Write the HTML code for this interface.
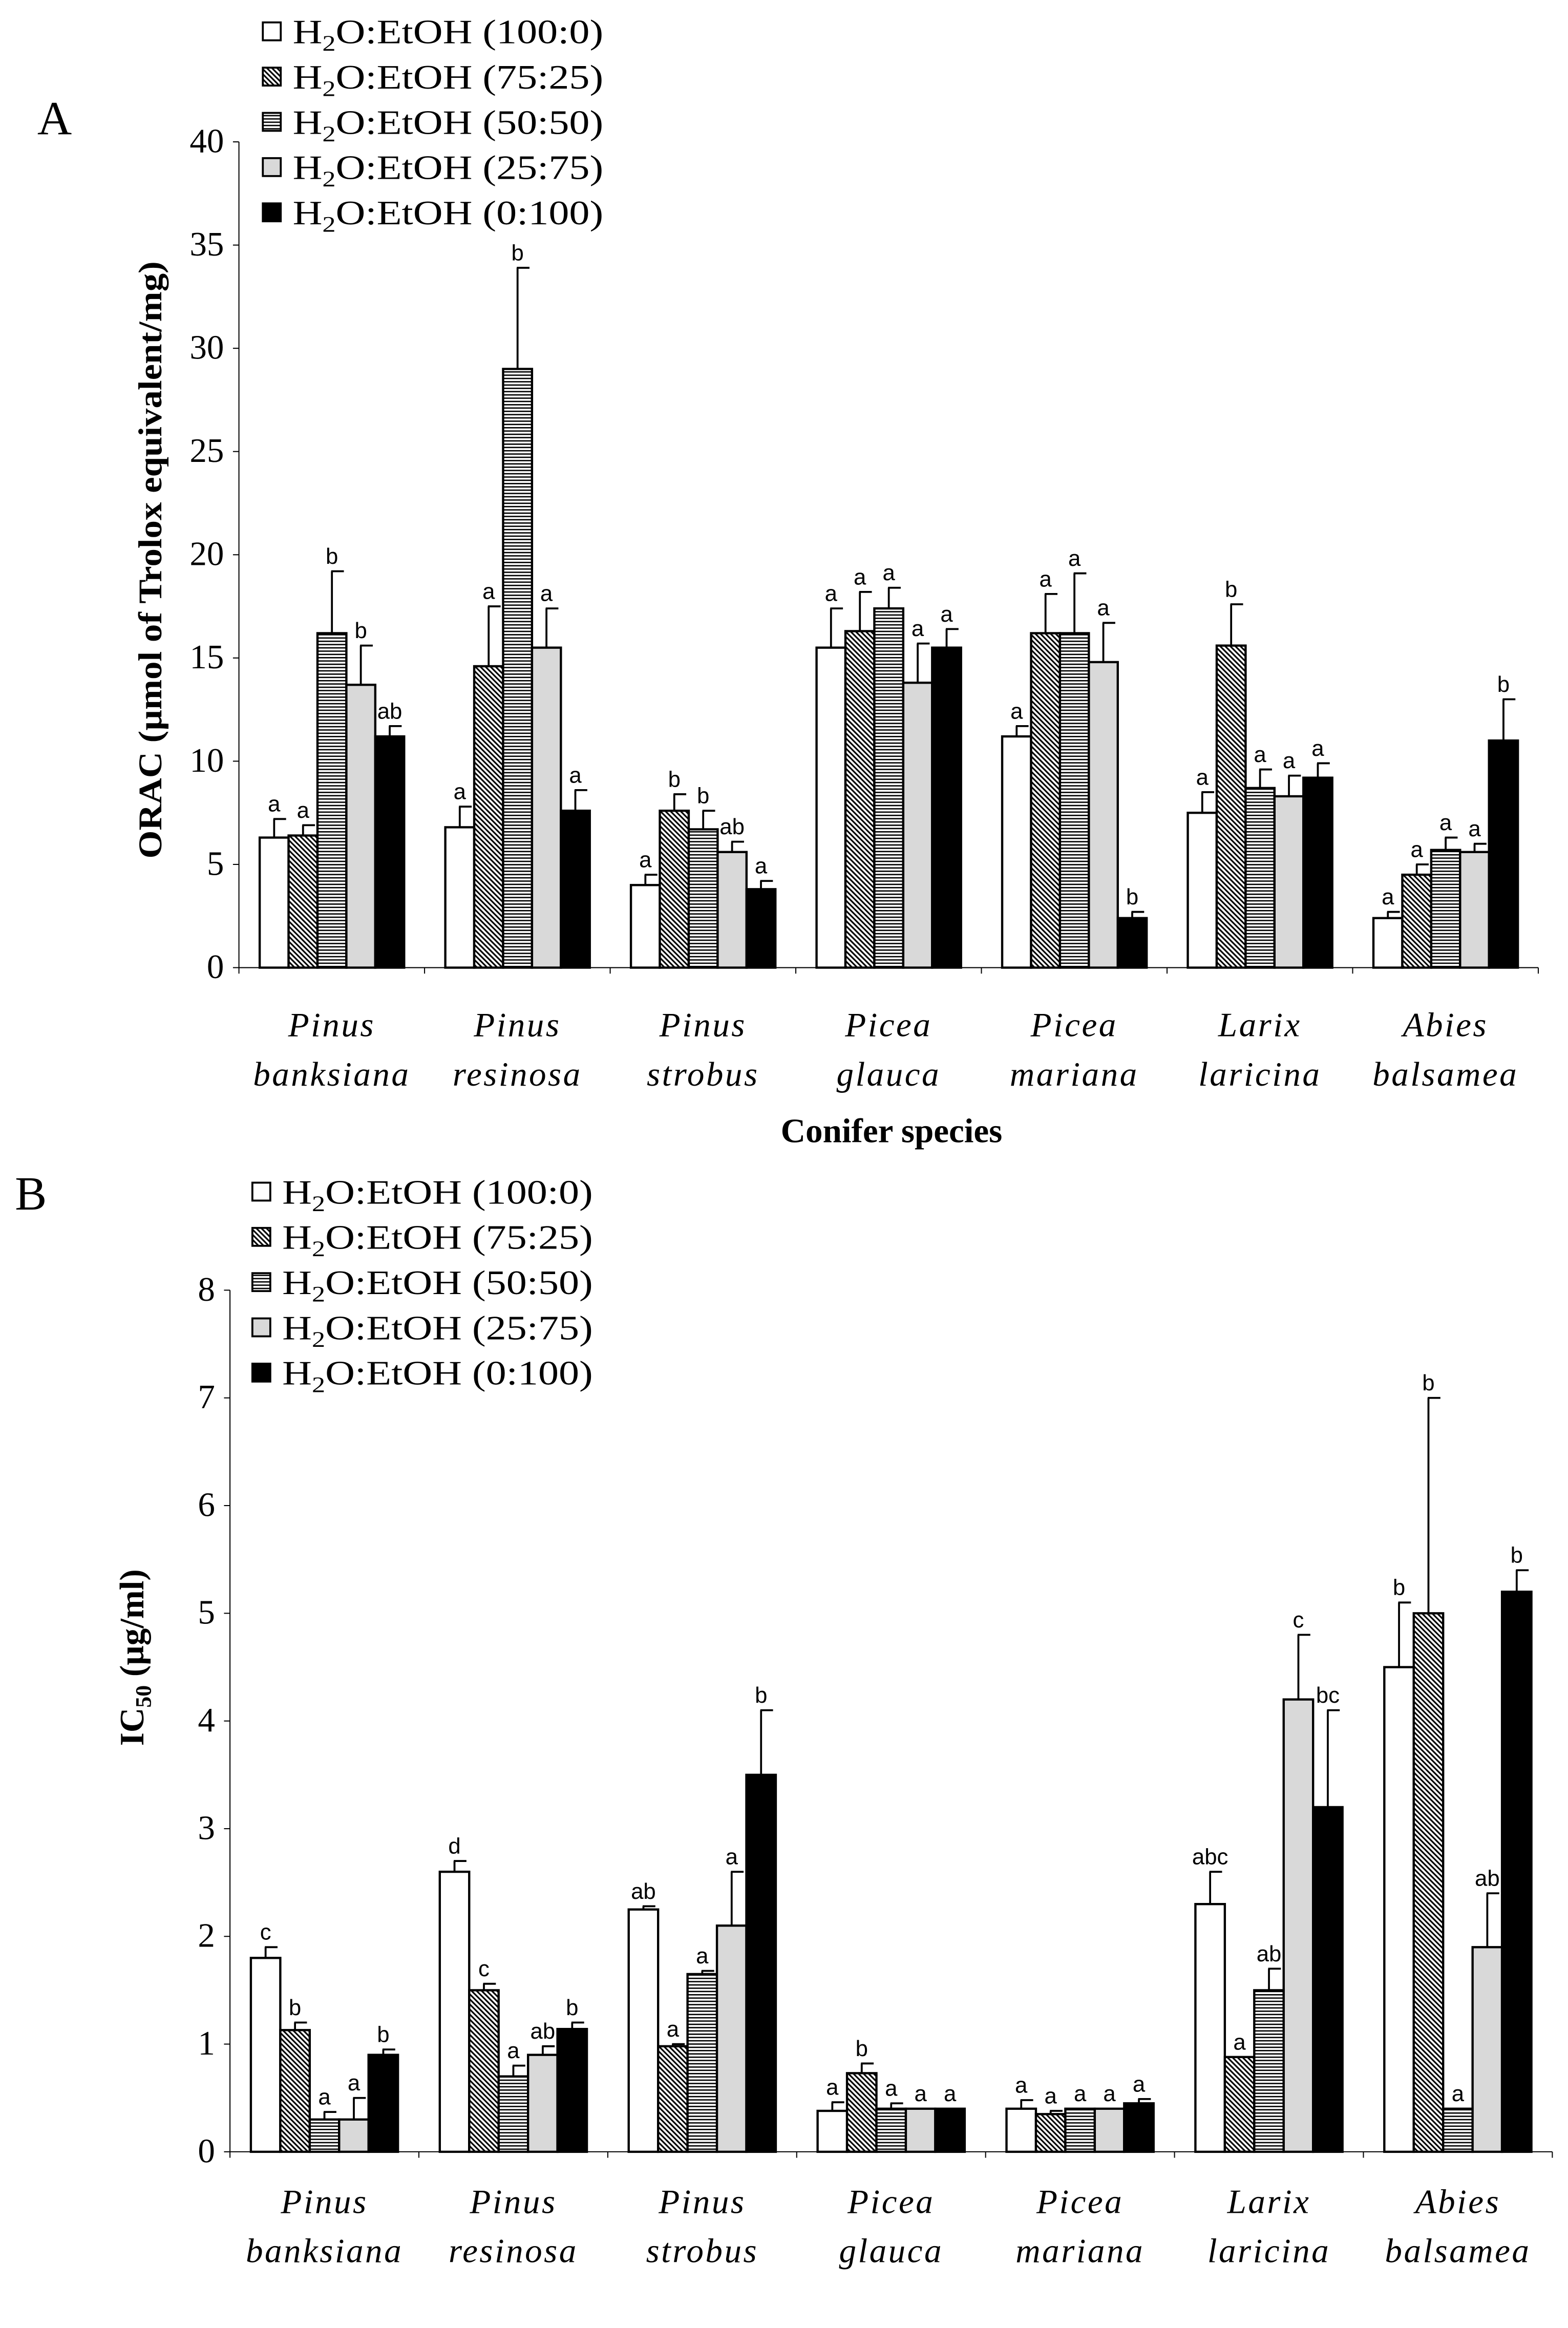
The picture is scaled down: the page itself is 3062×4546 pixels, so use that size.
<!DOCTYPE html>
<html><head><meta charset="utf-8"><style>html,body{margin:0;padding:0;background:#fff}svg{display:block}</style></head>
<body>
<svg id="fig" xmlns="http://www.w3.org/2000/svg" width="3062" height="4546" viewBox="0 0 1050 1559" preserveAspectRatio="none">
<defs>
<pattern id="diag" patternUnits="userSpaceOnUse" width="2.4" height="2.4" patternTransform="rotate(-45)"><rect width="2.4" height="2.4" fill="#fff"/><rect x="0" y="0" width="1.1" height="2.4" fill="#000"/></pattern>
<pattern id="horiz" patternUnits="userSpaceOnUse" width="4" height="2.2"><rect width="4" height="2.2" fill="#fff"/><rect x="0" y="0" width="4" height="0.9" fill="#000"/></pattern>
</defs>
<g id="root"></g>
</svg>
<script>
const species1 = ["Pinus","Pinus","Pinus","Picea","Picea","Larix","Abies"];
const species2 = ["banksiana","resinosa","strobus","glauca","mariana","laricina","balsamea"];
const seriesNames = ["(100:0)","(75:25)","(50:50)","(25:75)","(0:100)"];
const fills = ["#fff","url(#diag)","url(#horiz)","#d9d9d9","#000"];
// Panel A: ORAC values [species][series]
const oracVals = [[6.3,6.4,16.2,13.7,11.2],[6.8,14.6,29.0,15.5,7.6],[4.0,7.6,6.7,5.6,3.8],[15.5,16.3,17.4,13.8,15.5],[11.2,16.2,16.2,14.8,2.4],[7.5,15.6,8.7,8.3,9.2],[2.4,4.5,5.7,5.6,11.0]];
const oracErr = [[7.2,6.9,19.2,15.6,11.7],[7.8,17.5,33.9,17.4,8.6],[4.5,8.4,7.6,6.1,4.2],[17.4,18.2,18.4,15.7,16.4],[11.7,18.1,19.1,16.7,2.7],[8.5,17.6,9.6,9.3,9.9],[2.7,5.0,6.3,6.0,13.0]];
const oracLetters = [["a","a","b","b","ab"],["a","a","b","a","a"],["a","b","b","ab","a"],["a","a","a","a","a"],["a","a","a","a","b"],["a","b","a","a","a"],["a","a","a","a","b"]];
const oracTicks = [0,5,10,15,20,25,30,35,40];
// Panel B: IC50 values
const icVals = [[1.8,1.13,0.3,0.3,0.9],[2.6,1.5,0.7,0.9,1.14],[2.25,0.98,1.65,2.1,3.5],[0.38,0.73,0.4,0.4,0.4],[0.4,0.35,0.4,0.4,0.45],[2.3,0.88,1.5,4.2,3.2],[4.5,5.0,0.4,1.9,5.2]];
const icErr = [[1.9,1.2,0.37,0.5,0.95],[2.7,1.56,0.8,0.98,1.2],[2.28,1.0,1.68,2.6,4.1],[0.46,0.82,0.45,0.4,0.4],[0.48,0.38,0.4,0.4,0.49],[2.6,0.88,1.7,4.8,4.1],[5.1,7.0,0.4,2.4,5.4]];
const icLetters = [["c","b","a","a","b"],["d","c","a","ab","b"],["ab","a","a","a","b"],["a","b","a","a","a"],["a","a","a","a","a"],["abc","a","ab","c","bc"],["b","b","a","ab","b"]];
const icTicks = [0,1,2,3,4,5,6,7,8];

const NS="http://www.w3.org/2000/svg";
const root=document.getElementById('root');
function el(tag,attrs,parent){const e=document.createElementNS(NS,tag);for(const k in attrs)e.setAttribute(k,attrs[k]);(parent||root).appendChild(e);return e;}

function panel(cfg){
  const g=el('g',{});
  
  
  const y=v=>cfg.y0-(v-cfg.vmin)/(cfg.vmax-cfg.vmin)*(cfg.y0-cfg.ytop);
  const gx=i=>cfg.x0+i*cfg.gw;
  const ya=el('line',{x1:cfg.x0,y1:cfg.ytop,x2:cfg.x0,y2:cfg.y0,stroke:'#000','stroke-width':0.7},g);
  
  
  const xa=el('line',{x1:cfg.x0,y1:cfg.y0,x2:gx(7),y2:cfg.y0,stroke:'#000','stroke-width':0.7},g);
  
  
  cfg.ticks.forEach(t=>{
    el('line',{x1:cfg.x0-4,y1:y(t),x2:cfg.x0,y2:y(t),stroke:'#000','stroke-width':0.7},g);
    const tl=el('text',{x:cfg.x0-10,y:y(t)+7,'text-anchor':'end','font-family':'Liberation Serif, serif','font-size':cfg.tickFont},g);
    tl.textContent=t;
    
    
  });
  for(let i=0;i<=7;i++) el('line',{x1:gx(i),y1:cfg.y0,x2:gx(i),y2:cfg.y0+4,stroke:'#000','stroke-width':0.7},g);
  for(let i=0;i<7;i++){
    for(let s=0;s<5;s++){
      const bx=gx(i)+cfg.off+s*cfg.bw, v=cfg.vals[i][s], e=cfg.err[i][s];
      const cx=bx+cfg.bw/2;
      if(e>v){
        el('line',{x1:cx,y1:y(v),x2:cx,y2:y(e),stroke:'#000','stroke-width':1.3},g);
        el('line',{x1:cx-0.5,y1:y(e),x2:cx+8,y2:y(e),stroke:'#000','stroke-width':1.3},g);
      }
      const r=el('rect',{x:bx,y:y(v),width:cfg.bw,height:cfg.y0-y(v),fill:fills[s],stroke:'#000','stroke-width':1.5},g);
      
      
      const lt=el('text',{x:cx,y:y(Math.max(e,v))-5,'text-anchor':'middle','font-family':'Liberation Sans, sans-serif','font-size':15},g);
      lt.textContent=cfg.letters[i][s];
      
      
    }
    const c=gx(i)+cfg.gw/2;
    const t1=el('text',{x:c,y:cfg.catY,'text-anchor':'middle','font-family':'Liberation Serif, serif','font-style':'italic','font-size':23,'letter-spacing':1.2},g);
    t1.textContent=species1[i];
    
    
    const t2=el('text',{x:c,y:cfg.catY+33,'text-anchor':'middle','font-family':'Liberation Serif, serif','font-style':'italic','font-size':23,'letter-spacing':1.2},g);
    t2.textContent=species2[i];
    
    
  }
  const xt=el('text',{x:597,y:cfg.xTitleY,'text-anchor':'middle','font-family':'Liberation Serif, serif','font-weight':'bold','font-size':23},g);
  xt.textContent='Conifer species';
  
  
  for(let s=0;s<5;s++){
    const ly=cfg.legY+s*30.3;
    const lg=el('g',{},g);
    
    
    el('rect',{x:cfg.legX,y:ly-6,width:12,height:12,fill:fills[s],stroke:'#000','stroke-width':1.3},lg);
    const t=el('text',{x:cfg.legX+20,y:ly+8,'font-family':'Liberation Serif, serif','font-size':23,textLength:208,lengthAdjust:'spacingAndGlyphs'},lg);
    t.innerHTML='H<tspan font-size="15" dy="5">2</tspan><tspan dy="-5">O:EtOH '+seriesNames[s]+'</tspan>';
  }
  const pl=el('text',{x:cfg.letX,y:cfg.letY,'font-family':'Liberation Serif, serif','font-size':32},g);
  pl.textContent=cfg.letter;
  
  
  return g;
}

panel({name:'panel-a-orac-chart',x0:160,y0:648,ytop:95,vmin:0,vmax:40,gw:124.3,off:13.9,bw:19.35,ticks:oracTicks,tickFont:23,vals:oracVals,err:oracErr,letters:oracLetters,catY:694,xTitleY:765,legX:176,legY:21,letX:25,letY:90,letter:'A'});
panel({name:'panel-b-ic50-chart',x0:154,y0:1441,ytop:864,vmin:0,vmax:8,gw:126.5,off:14,bw:19.7,ticks:icTicks,tickFont:23,vals:icVals,err:icErr,letters:icLetters,catY:1482,xTitleY:1585,legX:169,legY:798,letX:10,letY:810,letter:'B'});

const ta=el('text',{x:0,y:0,transform:'translate(108,375) rotate(-90)','text-anchor':'middle','font-family':'Liberation Serif, serif','font-weight':'bold','font-size':22,textLength:400,lengthAdjust:'spacingAndGlyphs'});
ta.textContent='ORAC (µmol of Trolox equivalent/mg)';


const tb=el('text',{x:0,y:0,transform:'translate(96,1110) rotate(-90)','text-anchor':'middle','font-family':'Liberation Serif, serif','font-weight':'bold','font-size':23});
tb.innerHTML='IC<tspan font-size="15" dy="5">50</tspan><tspan dy="-5"> (µg/ml)</tspan>';


</script>
</body></html>
